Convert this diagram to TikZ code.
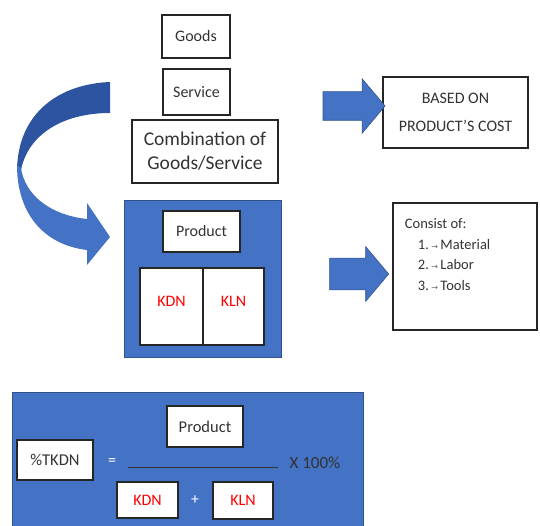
\documentclass[tikz,border=0pt]{standalone}
\usepackage{fontspec}
\setmainfont{Carlito}
\newfontfamily\symfont{DejaVu Sans}
\usepackage{tikz}
\usetikzlibrary{positioning, shapes.arrows}
\definecolor{panelblue}{RGB}{68,114,196}
\definecolor{paneledge}{RGB}{47,82,143}
\definecolor{backblue}{RGB}{44,84,160}
\tikzstyle{box} = [draw=black!85, line width=1.2pt, fill=white, align=center, inner sep=2pt, text=black!80]
\tikzstyle{panel} = [draw=paneledge, line width=0.8pt, fill=panelblue, inner sep=0pt]
\tikzstyle{blockarrow} = [single arrow, fill=panelblue, draw=paneledge, line width=0.6pt, minimum width=54pt, single arrow tip angle=100, inner xsep=0pt]
\newcommand{\tabmark}{\,{\symfont\fontsize{8}{8}\selectfont\color{black!60}→}\,}

\begin{document}
\begin{tikzpicture}[x=1pt, y=-1pt, font=\fontsize{16}{24}\selectfont]
  \useasboundingbox (0,0) rectangle (540,526);
  % upper part
  \node[box, minimum width=68, minimum height=43] (goods) at (196,36.5) {Goods};
  \node[box, minimum width=67, minimum height=46] (service) at (196.5,92) {Service};
  \node[box, minimum width=146, minimum height=63, font=\fontsize{19.5}{24}\selectfont] (combi) at (205,151.5) {Combination of\\Goods/Service};
  \node[box, minimum width=145, minimum height=71, font=\fontsize{16}{28}\selectfont] (cost) at (455.5,112.5) {BASED ON\\PRODUCT'S COST};
  \node[blockarrow, minimum height=62, inner ysep=14pt, single arrow head extend=13pt] (tocost) at (348,106) {};

  % curved arrow
  \fill[backblue] (110,82) .. controls (60,84) and (18,112) .. (17,170)
    -- (21,170) .. controls (28,135) and (62,113) .. (110,113) -- cycle;
  \fill[panelblue] (17,165) .. controls (17,215) and (45,245) .. (87,250)
    -- (87,265) -- (110,237) -- (87,203) -- (87,219)
    .. controls (50,215) and (25,195) .. (21,168) -- cycle;

  % product panel
  \node[panel, minimum width=157, minimum height=157] (panel) at (202.5,278.5) {};
  \node[box, minimum width=77, minimum height=41] (product) at (201.5,231.5) {Product};
  \node[box, minimum width=63, minimum height=77, text=red, text depth=10pt] (kdn) at (171.5,306.5) {KDN};
  \node[box, minimum width=61, minimum height=77, text=red, text depth=10pt, right=-1.2pt of kdn] (kln) {KLN};
  \node[blockarrow, minimum height=59, inner ysep=15.5pt, single arrow head extend=11.5pt] (toconsist) at (352.5,274) {};
  \node[box, minimum width=144, minimum height=127] (consist) at (465,266.5) {};
  \node[anchor=north west, align=left, text=black!80, font=\fontsize{14.5}{20.5}\selectfont] (consisttext)
    at ([shift={(9,13)}]consist.north west)
    {Consist of:\\\hspace{13pt}1.\tabmark Material\\\hspace{13pt}2.\tabmark Labor\\\hspace{13pt}3.\tabmark Tools};

  % formula panel
  \node[panel, minimum width=351, minimum height=138] (formula) at (187.5,461) {};
  \node[box, minimum width=76, minimum height=40, font=\fontsize{16.5}{20}\selectfont] (tkdn) at (55,460) {\%TKDN};
  \node[text=white] (equal) at (112,462) {=};
  \node[box, minimum width=76, minimum height=41, font=\fontsize{16.5}{20}\selectfont] (fproduct) at (205,426.5) {Product};
  \node[box, minimum width=61, minimum height=36, text=red] (fkdn) at (147.5,500) {KDN};
  \node[text=white] (plus) at (195,500) {+};
  \node[box, minimum width=60, minimum height=37, text=red] (fkln) at (243,500.5) {KLN};
  \coordinate (fracleft) at (128,467);
  \coordinate (fracright) at (278,467);
  \draw[black!80, line width=1pt] (fracleft) -- (fracright);
  \node[text=black!80, font=\fontsize{17}{20}\selectfont] (times) at (315,463) {X 100\%};
\end{tikzpicture}
\end{document}
